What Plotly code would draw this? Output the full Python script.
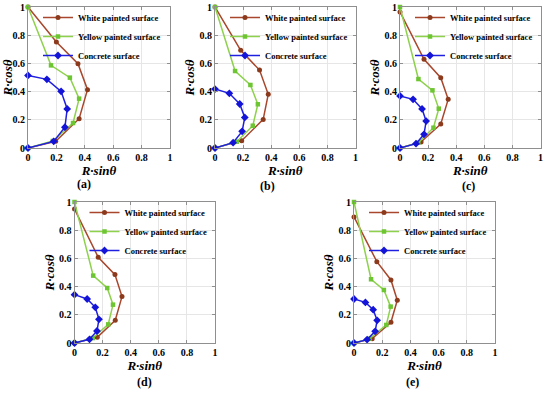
import plotly.graph_objects as go

tick_vals = [0, 0.2, 0.4, 0.6, 0.8, 1]
tick_labels = ["0", "0.2", "0.4", "0.6", "0.8", "1"]
series_names = ["White painted surface", "Yellow painted surface", "Concrete surface"]
panel_labels = ["(a)", "(b)", "(c)", "(d)", "(e)"]

# panel (a)
a_white_x = [0, 0.200, 0.352, 0.419, 0.360, 0.195, 0]
a_white_y = [1, 0.752, 0.598, 0.414, 0.208, 0.047, 0]
a_yellow_x = [0, 0.162, 0.295, 0.360, 0.317, 0.175, 0]
a_yellow_y = [1, 0.586, 0.499, 0.350, 0.177, 0.050, 0]
a_conc_x = [0, 0.133, 0.233, 0.276, 0.260, 0.181, 0]
a_conc_y = [0.515, 0.487, 0.402, 0.277, 0.147, 0.047, 0]

# panel (b)
b_white_x = [0, 0.183, 0.317, 0.379, 0.343, 0.190, 0]
b_white_y = [1, 0.693, 0.553, 0.381, 0.203, 0.052, 0]
b_yellow_x = [0, 0.143, 0.252, 0.305, 0.269, 0.155, 0]
b_yellow_y = [1, 0.546, 0.447, 0.310, 0.158, 0.045, 0]
b_conc_x = [0, 0.102, 0.176, 0.212, 0.193, 0.129, 0]
b_conc_y = [0.418, 0.388, 0.312, 0.217, 0.118, 0.038, 0]

# panel (c)
c_white_x = [0, 0.171, 0.290, 0.343, 0.290, 0.150, 0]
c_white_y = [0.965, 0.629, 0.499, 0.345, 0.170, 0.043, 0]
c_yellow_x = [0, 0.131, 0.231, 0.276, 0.238, 0.130, 0]
c_yellow_y = [1, 0.489, 0.409, 0.279, 0.144, 0.037, 0]
c_conc_x = [0, 0.093, 0.157, 0.186, 0.171, 0.114, 0]
c_conc_y = [0.369, 0.345, 0.277, 0.191, 0.097, 0.031, 0]

# panel (d)
d_white_x = [0, 0.169, 0.288, 0.338, 0.290, 0.162, 0]
d_white_y = [0.950, 0.608, 0.485, 0.329, 0.161, 0.040, 0]
d_yellow_x = [0, 0.133, 0.233, 0.274, 0.240, 0.130, 0]
d_yellow_y = [1, 0.478, 0.390, 0.272, 0.132, 0.035, 0]
d_conc_x = [0, 0.090, 0.148, 0.174, 0.160, 0.107, 0]
d_conc_y = [0.343, 0.312, 0.253, 0.168, 0.085, 0.026, 0]

# panel (e)
e_white_x = [0, 0.162, 0.262, 0.307, 0.262, 0.129, 0]
e_white_y = [0.894, 0.577, 0.447, 0.303, 0.147, 0.031, 0]
e_yellow_x = [0, 0.121, 0.212, 0.260, 0.229, 0.110, 0]
e_yellow_y = [1, 0.452, 0.376, 0.258, 0.128, 0.030, 0]
e_conc_x = [0, 0.081, 0.136, 0.164, 0.150, 0.093, 0]
e_conc_y = [0.312, 0.288, 0.236, 0.161, 0.083, 0.024, 0]

panels = [
    [(a_white_x, a_white_y), (a_yellow_x, a_yellow_y), (a_conc_x, a_conc_y)],
    [(b_white_x, b_white_y), (b_yellow_x, b_yellow_y), (b_conc_x, b_conc_y)],
    [(c_white_x, c_white_y), (c_yellow_x, c_yellow_y), (c_conc_x, c_conc_y)],
    [(d_white_x, d_white_y), (d_yellow_x, d_yellow_y), (d_conc_x, d_conc_y)],
    [(e_white_x, e_white_y), (e_yellow_x, e_yellow_y), (e_conc_x, e_conc_y)],
]

W, H = 550, 394
# plot boxes in pixels: x0, x1, ytop, ybottom
boxes = [
    (28, 170, 7, 148),
    (215, 355.5, 7, 148),
    (400, 540.5, 7, 148),
    (74.5, 215, 202, 343),
    (354, 495, 202, 343),
]
caption_pos = [(84, 184), (267, 186), (468, 186), (144, 382), (412, 382)]

line_colors = ["#A8472C", "#8ED14C", "#1F1FE0"]
marker_colors = ["#8C3A1C", "#6CC531", "#1414D8"]
symbols = ["circle", "square", "diamond"]
msizes = [5, 4.5, 6]

serif = "Liberation Serif, Times New Roman, serif"

fig = go.Figure()
layout = dict(
    width=W, height=H,
    margin=dict(l=0, r=0, t=0, b=0, autoexpand=False),
    paper_bgcolor="white", plot_bgcolor="white",
    font=dict(family=serif, color="black"),
)

annotations = []
for i, (panel, box) in enumerate(zip(panels, boxes)):
    x0, x1, yt, yb = box
    n = "" if i == 0 else str(i + 1)
    leg = "legend" if i == 0 else "legend" + str(i + 1)
    for j, (xs, ys) in enumerate(panel):
        fig.add_trace(go.Scatter(
            x=xs, y=ys, mode="lines+markers", name=series_names[j],
            xaxis="x" + n, yaxis="y" + n, legend=leg,
            line=dict(color=line_colors[j], width=1.5),
            marker=dict(symbol=symbols[j], size=msizes[j], color=marker_colors[j]),
            cliponaxis=False,
        ))
    axcommon = dict(
        range=[0, 1], tickvals=tick_vals, ticktext=tick_labels,
        showgrid=True, gridcolor="#E6E6E6", gridwidth=1, zeroline=False,
        showline=True, linecolor="#8F8F8F", linewidth=1, mirror="ticks",
        ticks="inside", ticklen=3, tickcolor="#8F8F8F", tickwidth=1,
        tickfont=dict(family=serif, size=10, color="black", weight="bold"),
        fixedrange=True, automargin=False,
    )
    layout["xaxis" + n] = dict(
        axcommon, domain=[x0 / W, x1 / W], anchor="y" + n,
        title=dict(text="<b><i>R·sinθ</i></b>", font=dict(family=serif, size=13), standoff=3),
    )
    layout["yaxis" + n] = dict(
        axcommon, domain=[1 - yb / H, 1 - yt / H], anchor="x" + n,
        title=dict(text="<b><i>R·cosθ</i></b>", font=dict(family=serif, size=13), standoff=1),
    )
    layout[leg] = dict(
        x=(x0 + 10) / W, y=1 - (yt - 4) / H, xanchor="left", yanchor="top",
        bgcolor="rgba(0,0,0,0)", borderwidth=0,
        font=dict(family=serif, size=8.5, color="black", weight="bold"),
        tracegroupgap=0, itemwidth=30,
    )
    cx, cy = caption_pos[i]
    annotations.append(dict(
        text="<b>" + panel_labels[i] + "</b>", x=cx / W, y=1 - cy / H, xref="paper", yref="paper",
        showarrow=False, font=dict(family=serif, size=12, color="black"),
        xanchor="center", yanchor="middle",
    ))

layout["annotations"] = annotations
fig.update_layout(**layout)
fig.write_html("out.html", config={"displayModeBar": False},
               post_script="document.body.style.margin='0';")
